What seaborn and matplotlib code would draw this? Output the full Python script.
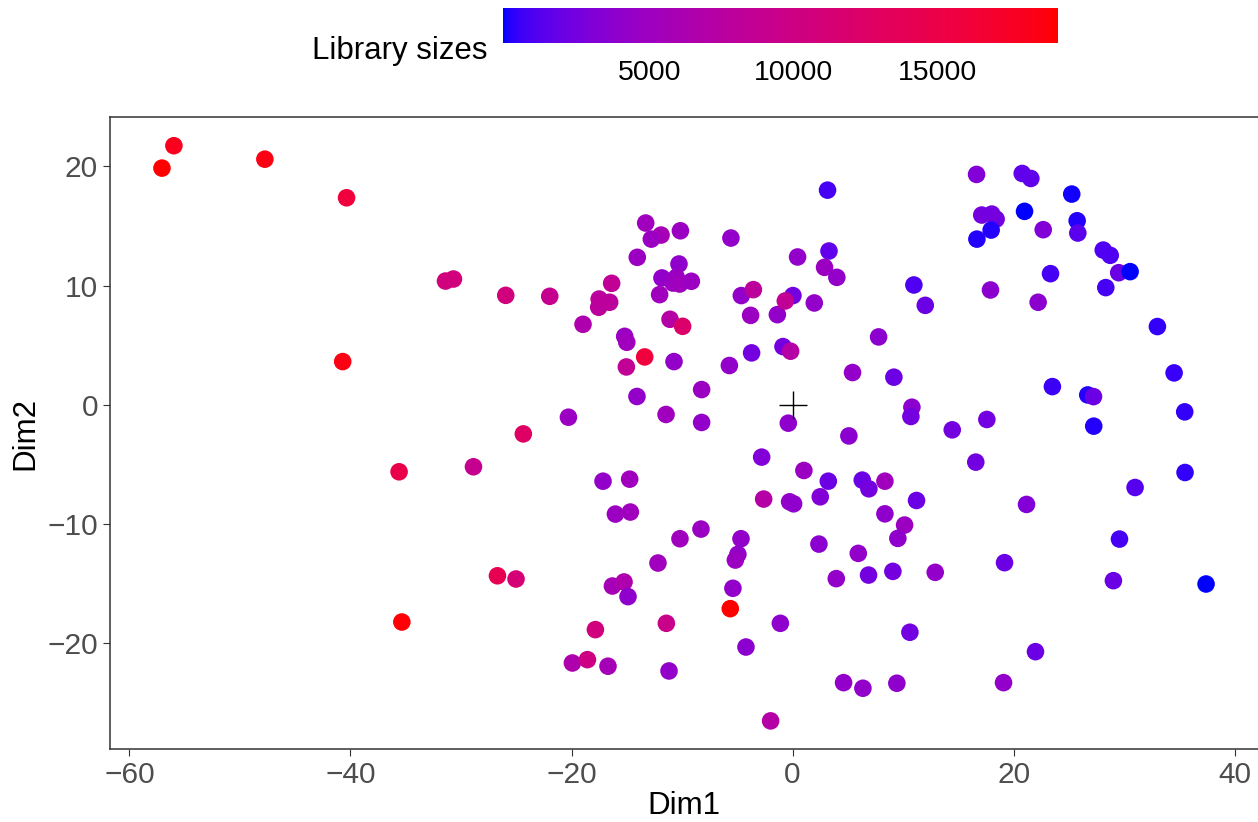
import numpy as np
import pandas as pd
import matplotlib
matplotlib.use("Agg")
import matplotlib.pyplot as plt
from matplotlib.colors import ListedColormap, Normalize
from matplotlib.cm import ScalarMappable
import seaborn as sns

# data (t-SNE like embedding, coloured by library size)
dim1 = [-55.97, -57.05, -47.74, -40.35, -31.40, -30.68, -25.95, -40.70, -35.60, -28.87,
        -26.70, -25.02, -35.35,
        3.16, -13.29, -11.90, -12.78, -10.15, -5.58, 0.45, 3.29, 2.89, 4.00,
        -14.05, -10.28, -11.82, -10.52, -10.82, -10.22, -9.16, -12.03, -16.37, -21.97,
        -17.50, -16.55, -17.54, -18.96, -11.09, -9.95, -15.19, -15.00, -13.38, -15.04,
        -10.73, -14.08, -11.45, -20.28, -24.36, -8.23, -8.23, -4.64, -3.55, -3.80,
        -1.38, 0.03, -0.66, 1.96, -5.72, -3.71, -0.87, -0.18, 7.78, 5.42, 9.16,
        -0.39, 5.09,
        16.64, 20.77, 21.55, 25.25, 17.11, 18.02, 18.41, 17.96, 16.67, 20.98,
        22.67, 25.74, 25.80, 28.10, 28.73, 29.50, 30.53, 28.33, 23.33, 10.97,
        12.00, 17.90, 22.21, 33.00, 34.51, 23.50, 26.70, 27.22, 35.47, 10.79,
        10.70, 14.44, 17.57, 27.24,
        16.57, 35.50, 30.98, 11.21, 21.16, 10.13, 9.52, 29.57, 9.07, 12.90,
        19.17, 29.02, 37.40, 10.61, 21.97, 9.43, 19.08,
        -2.80, 1.02, 3.23, 6.30, 6.90, 8.35, -17.15, -14.74, -16.03, -14.68,
        -2.62, -0.27, 0.09, 2.50, 8.35, -8.29, -10.19, -4.67, -4.95, -5.18,
        2.38, 5.94, 3.95, 6.87, -12.18, -16.30, -15.25, -14.89, -5.40, -5.64,
        -1.11, -11.42, -17.84, -4.22, -19.92, -18.56, -16.70, -11.18, 4.61, 6.36,
        -1.99]
dim2 = [21.74, 19.86, 20.61, 17.37, 10.38, 10.55, 9.18, 3.62, -5.63, -5.21,
        -14.36, -14.63, -18.24,
        18.01, 15.25, 14.24, 13.90, 14.60, 13.99, 12.40, 12.90, 11.53, 10.69,
        12.37, 11.81, 10.64, 10.69, 10.21, 10.13, 10.36, 9.24, 10.19, 9.10,
        8.87, 8.60, 8.18, 6.75, 7.17, 6.58, 5.74, 5.24, 4.01, 3.17,
        3.62, 0.69, -0.82, -1.05, -2.45, 1.27, -1.49, 9.16, 9.66, 7.50,
        7.56, 9.16, 8.71, 8.54, 3.29, 4.35, 4.88, 4.49, 5.69, 2.70, 2.31,
        -1.55, -2.62,
        19.33, 19.41, 18.99, 17.68, 15.92, 16.00, 15.58, 14.66, 13.90, 16.23,
        14.69, 15.44, 14.41, 12.98, 12.54, 11.08, 11.17, 9.83, 11.00, 10.05,
        8.34, 9.63, 8.60, 6.56, 2.67, 1.52, 0.82, 0.68, -0.60, -0.21,
        -0.99, -2.11, -1.24, -1.80,
        -4.82, -5.69, -6.95, -8.04, -8.37, -10.10, -11.22, -11.28, -13.99, -14.07,
        -13.26, -14.77, -15.05, -19.10, -20.73, -23.38, -23.33,
        -4.40, -5.52, -6.42, -6.33, -7.06, -6.42, -6.42, -6.25, -9.18, -9.01,
        -7.92, -8.15, -8.32, -7.73, -9.16, -10.44, -11.25, -11.25, -12.56, -13.04,
        -11.70, -12.48, -14.60, -14.30, -13.29, -15.22, -14.88, -16.11, -15.41, -17.12,
        -18.35, -18.35, -18.88, -20.34, -21.68, -21.40, -21.95, -22.35, -23.33, -23.80,
        -26.54]
lib_size = [17500, 19200, 18000, 15500, 10500, 10500, 10500, 18000, 14500, 9000,
            14000, 11000, 18500,
            1200, 5400, 5900, 5000, 5000, 4500, 4500, 2000, 5000, 4500,
            5000, 4300, 4500, 5000, 5000, 5400, 5000, 5400, 8500, 9000,
            8000, 8000, 8000, 6600, 7200, 12000, 5000, 5400, 15500, 8500,
            4500, 4500, 5400, 5000, 12500, 5000, 4500, 4500, 8000, 5000,
            4500, 2800, 8500, 4500, 4500, 2800, 2800, 7200, 4000, 4500, 2400,
            4300, 4000,
            3400, 2000, 2000, 500, 2800, 2600, 2800, 600, 600, 100,
            3400, 600, 1800, 1400, 1400, 2400, 200, 1200, 1200, 1400,
            2400, 4000, 4000, 800, 900, 1000, 600, 2400, 800, 4000,
            2800, 2800, 2600, 600,
            2600, 800, 1600, 2400, 3400, 5000, 4300, 1200, 2800, 4500,
            2400, 2400, 300, 2600, 2400, 4300, 4500,
            3400, 5000, 2400, 2400, 2800, 5400, 4500, 5400, 5000, 5400,
            7200, 4500, 4300, 3400, 4300, 5000, 5400, 4500, 4500, 5000,
            4000, 4500, 4500, 2800, 5400, 5900, 6600, 4300, 4500, 19500,
            4300, 9500, 10500, 4000, 6600, 10000, 5900, 4500, 4500, 4500,
            7200]
origin = [0.0]
cbar_ticks = [5000, 10000, 15000]

df = pd.DataFrame({"Dim1": dim1, "Dim2": dim2, "size": lib_size})


# blue -> red gradient interpolated in Lab space (like ggplot's scale_colour_gradient)
M = np.array([[0.4124, 0.3576, 0.1805], [0.2126, 0.7152, 0.0722], [0.0193, 0.1192, 0.9505]])
WHITE = np.array([0.95047, 1.0, 1.08883])


def to_lab(rgb):
    c = np.asarray(rgb, float)
    c = np.where(c <= 0.04045, c / 12.92, ((c + 0.055) / 1.055) ** 2.4)
    xyz = M @ c / WHITE
    f = np.where(xyz > (6 / 29) ** 3, np.cbrt(xyz), xyz / (3 * (6 / 29) ** 2) + 4 / 29)
    return np.array([116 * f[1] - 16, 500 * (f[0] - f[1]), 200 * (f[1] - f[2])])


def from_lab(lab):
    L, a, b = lab
    fy = (L + 16) / 116
    f = np.array([fy + a / 500, fy, fy - b / 200])
    xyz = np.where(f > 6 / 29, f ** 3, 3 * (6 / 29) ** 2 * (f - 4 / 29)) * WHITE
    c = np.clip(np.linalg.inv(M) @ xyz, 0, 1)
    c = np.where(c <= 0.0031308, 12.92 * c, 1.055 * c ** (1 / 2.4) - 0.055)
    return np.clip(c, 0, 1)


lo, hi = to_lab([0, 0, 1]), to_lab([1, 0, 0])
cmap = ListedColormap([from_lab(lo + t * (hi - lo)) for t in np.linspace(0, 1, 256)])

sns.set_style("white")
plt.rcParams["font.family"] = ["Liberation Sans", "DejaVu Sans"]

fig = plt.figure(figsize=(12.58, 8.22), dpi=100)
ax = fig.add_axes([110 / 1258, 1 - 749 / 822, 1148 / 1258, 632 / 822])

sns.scatterplot(data=df, x="Dim1", y="Dim2", hue="size", palette=cmap,
                hue_norm=(370, 18700), s=160, linewidth=0, legend=False, ax=ax)
ax.plot(origin, origin, marker="+", ms=19.5, mew=1.0, color="black", ls="none")

ax.set_xlim(-61.75, 42.1)
ax.set_ylim(-28.9, 24.15)
ax.set_xticks([-60, -40, -20, 0, 20, 40])
ax.set_yticks([-20, -10, 0, 10, 20])
ax.set_xticklabels(["\u221260", "\u221240", "\u221220", "0", "20", "40"])
ax.set_yticklabels(["\u221220", "\u221210", "0", "10", "20"])
ax.tick_params(length=5, width=0.8, color="#333333", labelcolor="#4D4D4D",
               labelsize=21.5, pad=3.6, left=True, bottom=True)
for side in ["left", "bottom", "top"]:
    ax.spines[side].set_color("#333333")
    ax.spines[side].set_linewidth(1.1)
ax.spines["right"].set_visible(False)

ax.set_xlabel("Dim1", fontsize=22.5, color="black", va="center")
ax.set_ylabel("Dim2", fontsize=22.5, color="black", va="center")
ax.xaxis.set_label_coords(0.5, -0.09)
ax.yaxis.set_label_coords(-0.074, 0.5)

# colour bar legend on top
cax = fig.add_axes([503 / 1258, 1 - 43 / 822, 555 / 1258, 35 / 822])
sm = ScalarMappable(norm=Normalize(-110, 19190), cmap=cmap)
cbar = fig.colorbar(sm, cax=cax, orientation="horizontal", ticks=cbar_ticks)
cbar.outline.set_visible(False)
cax.tick_params(direction="in", length=5, width=0.8, color="white", labelcolor="black",
                labelsize=20.5, pad=12.5, top=True, bottom=True)
fig.text(487 / 1258, 1 - 58.5 / 822, "Library sizes", fontsize=22.5,
         ha="right", va="baseline", color="black")

fig.savefig("out.png", dpi=100)
